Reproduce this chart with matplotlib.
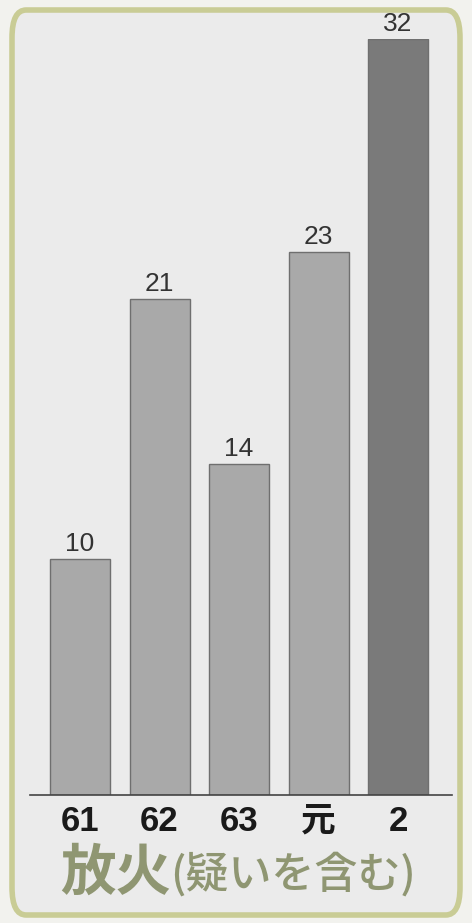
import matplotlib
matplotlib.use("Agg")
import matplotlib.pyplot as plt
from matplotlib.patches import FancyBboxPatch
from matplotlib import font_manager

categories = ["61", "62", "63", "元", "2"]
values = [10, 21, 14, 23, 32]
bar_colors = ["#a9a9a9", "#a9a9a9", "#a9a9a9", "#a9a9a9", "#7a7a7a"]
title_main = "放火"
title_sub = "(疑いを含む)"

W, H = 472, 923
fig = plt.figure(figsize=(W / 100, H / 100), dpi=100)
fig.patch.set_facecolor("#f2f2ee")

# rounded frame
frame = FancyBboxPatch((12 / W, 8 / H), (448) / W, (905) / H,
                       boxstyle="round,pad=0,rounding_size=0.03",
                       transform=fig.transFigure, facecolor="#ebebeb",
                       edgecolor="#c9cc95", linewidth=4, zorder=-10)
fig.patches.append(frame)

names = {f.name for f in font_manager.fontManager.ttflist}
narrow = "Liberation Sans Narrow" if "Liberation Sans Narrow" in names else "Liberation Sans"

# axes in pixel geometry
x0, x1 = 30, 452
ybase, ytop = 795, 39
ax = fig.add_axes([x0 / W, (H - ybase) / H, (x1 - x0) / W, (ybase - ytop) / H])
ax.set_zorder(5)
ax.set_facecolor("none")
spacing = 79.5
ax.set_xlim(-(80 - x0) / spacing, 4 + (x1 - 398) / spacing)
ax.set_ylim(0, 32)

xs = list(range(len(categories)))
bars = ax.bar(xs, values, width=60 / spacing, color=bar_colors,
              edgecolor="#6f6f6f", linewidth=1.0, zorder=2)
for x, v in zip(xs, values):
    ax.annotate(str(v), (x, v), xytext=(0, 2), textcoords="offset points",
                ha="center", va="bottom", fontsize=19, color="#333333",
                family=[narrow, "DejaVu Sans"], annotation_clip=False)

for s in ["top", "right", "left"]:
    ax.spines[s].set_visible(False)
ax.spines["bottom"].set_color("#444444")
ax.spines["bottom"].set_linewidth(1.2)
ax.set_yticks([])
ax.set_xticks(xs)
ax.set_xticklabels(categories, fontsize=25, fontweight="bold", color="#1a1a1a",
                   family=[narrow, "Noto Sans CJK JP"])
ax.tick_params(axis="x", length=0, pad=7)

# title
fig.text(60 / W, (H - 874) / H, title_main, fontsize=40, fontweight="bold",
         color="#8f9672", family=["Noto Sans CJK JP"], ha="left", va="center")
fig.text(170 / W, (H - 874) / H, title_sub, fontsize=31, fontweight="medium",
         color="#8f9672", family=["Noto Sans CJK JP"], ha="left", va="center")

fig.savefig("out.png", dpi=100, facecolor=fig.get_facecolor())
